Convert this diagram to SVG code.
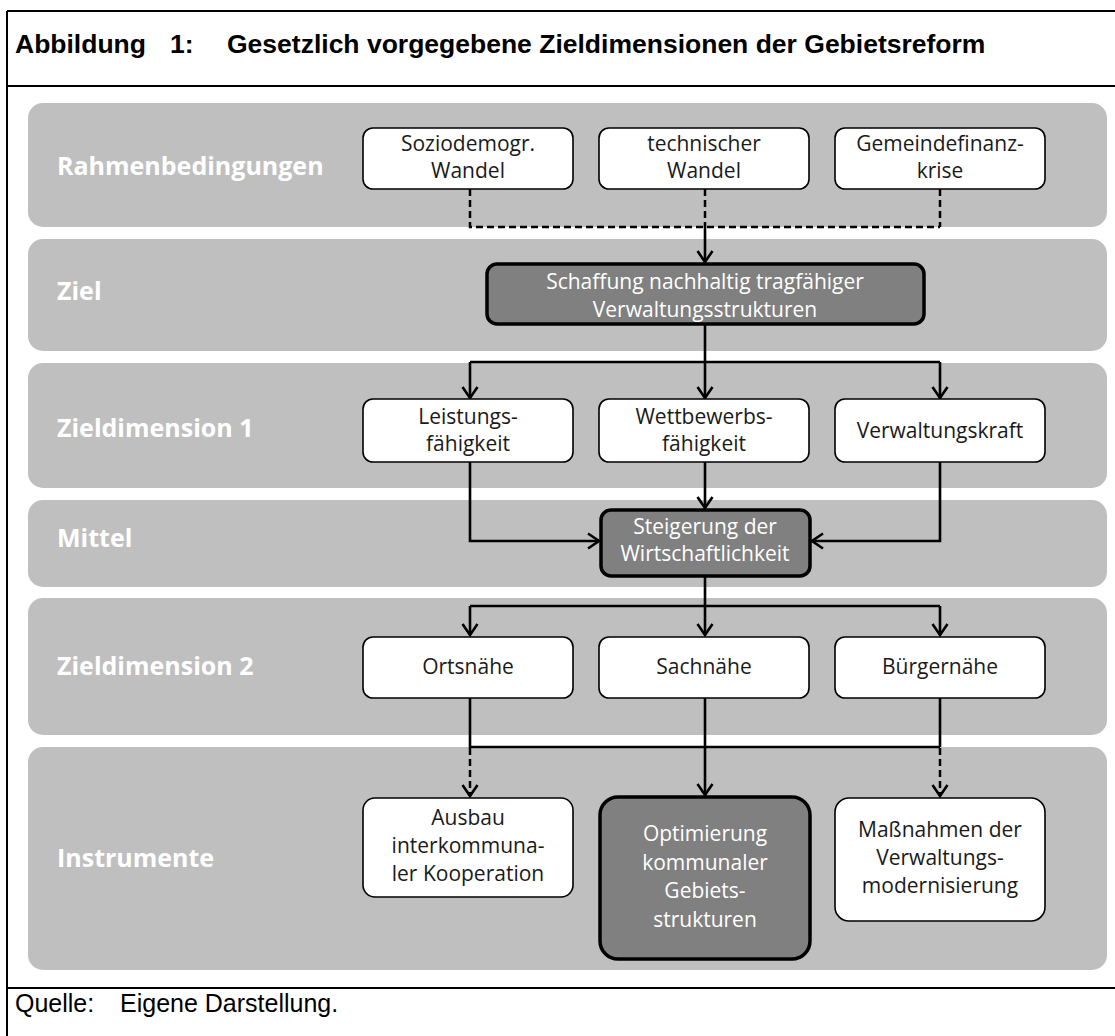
<svg xmlns="http://www.w3.org/2000/svg" width="1115" height="1036" viewBox="0 0 1115 1036">
<style>
.frame{stroke:#000;stroke-width:2;fill:none}
.title{font-family:"Liberation Sans",Arial,sans-serif;font-weight:bold;font-size:26.5px;fill:#000}
.src{font-family:"Liberation Sans",Arial,sans-serif;font-size:25px;fill:#000}
.band{fill:#BFBFBF}
.blabel{font-family:"Open Sans","Noto Sans",sans-serif;font-weight:bold;font-size:25px;fill:#fff}
.wbox{fill:#fff;stroke:#000;stroke-width:1.6}
.dbox{fill:#808080;stroke:#000;stroke-width:3.5}
.t{font-family:"Open Sans","Noto Sans",sans-serif;font-size:21px;fill:#1a1a1a;text-anchor:middle}
.tw{font-family:"Open Sans","Noto Sans",sans-serif;font-size:21px;fill:#fff;text-anchor:middle}
.c{fill:none;stroke:#000;stroke-width:2.6}
.d{fill:none;stroke:#000;stroke-width:2.5;stroke-dasharray:7 4}
</style>
<defs>
<marker id="ah" viewBox="-14 -10 16 20" refX="0" refY="0" markerWidth="16" markerHeight="20" markerUnits="userSpaceOnUse" orient="auto">
<path d="M-11,-7.5 L0,0 L-11,7.5" fill="none" stroke="#000" stroke-width="2.6"/>
</marker>
</defs>
<rect width="1115" height="1036" fill="#fff"/>
<g id="frame">
<line class="frame" x1="7" y1="11" x2="1115" y2="11"/>
<line class="frame" x1="7" y1="86" x2="1115" y2="86"/>
<line class="frame" x1="7" y1="988" x2="1115" y2="988"/>
<line class="frame" x1="7" y1="11" x2="7" y2="1036"/>
<text class="title" x="15" y="53">Abbildung</text>
<text class="title" x="170" y="53">1:</text>
<text class="title" x="227" y="53">Gesetzlich vorgegebene Zieldimensionen der Gebietsreform</text>
<text class="src" x="15" y="1012">Quelle:</text>
<text class="src" x="120" y="1012">Eigene Darstellung.</text>
</g>
<g id="bands">
<g id="band-rahmen"><rect class="band" x="28" y="103" width="1079" height="124" rx="15"/><text class="blabel" x="57" y="175">Rahmenbedingungen</text></g>
<g id="band-ziel"><rect class="band" x="28" y="239" width="1079" height="112" rx="15"/><text class="blabel" x="57" y="300">Ziel</text></g>
<g id="band-zd1"><rect class="band" x="28" y="363" width="1079" height="125" rx="15"/><text class="blabel" x="57" y="437">Zieldimension 1</text></g>
<g id="band-mittel"><rect class="band" x="28" y="500" width="1079" height="87" rx="15"/><text class="blabel" x="57" y="547">Mittel</text></g>
<g id="band-zd2"><rect class="band" x="28" y="598" width="1079" height="137" rx="15"/><text class="blabel" x="57" y="675">Zieldimension 2</text></g>
<g id="band-instr"><rect class="band" x="28" y="747" width="1079" height="223" rx="15"/><text class="blabel" x="57" y="867">Instrumente</text></g>
</g>
<g id="connectors">
<path class="d" d="M470,189 V227 H940 M940,189 V227 M705,189 V227"/>
<path class="c" d="M705,227 V262" marker-end="url(#ah)"/>
<path class="c" d="M705,325 V362 M470,362 H940"/>
<path class="c" d="M470,362 V398" marker-end="url(#ah)"/>
<path class="c" d="M705,362 V398" marker-end="url(#ah)"/>
<path class="c" d="M940,362 V398" marker-end="url(#ah)"/>
<path class="c" d="M470,462 V541 H599" marker-end="url(#ah)"/>
<path class="c" d="M940,462 V541 H812" marker-end="url(#ah)"/>
<path class="c" d="M705,462 V508" marker-end="url(#ah)"/>
<path class="c" d="M705,576 V606 M470,606 H940"/>
<path class="c" d="M470,606 V635" marker-end="url(#ah)"/>
<path class="c" d="M705,606 V635" marker-end="url(#ah)"/>
<path class="c" d="M940,606 V635" marker-end="url(#ah)"/>
<path class="c" d="M470,698 V747 H940 M940,698 V747"/>
<path class="c" d="M705,698 V795" marker-end="url(#ah)"/>
<path class="d" d="M470,748 V796" marker-end="url(#ah)"/>
<path class="d" d="M940,748 V796" marker-end="url(#ah)"/>
</g>
<g id="n-sozio"><rect class="wbox" x="363" y="128" width="210" height="61" rx="10"/><text class="t" x="468" y="151">Soziodemogr.</text><text class="t" x="468" y="178">Wandel</text></g>
<g id="n-tech"><rect class="wbox" x="599" y="128" width="210" height="61" rx="10"/><text class="t" x="704" y="151">technischer</text><text class="t" x="704" y="178">Wandel</text></g>
<g id="n-gemeinde"><rect class="wbox" x="835" y="128" width="210" height="61" rx="10"/><text class="t" x="940" y="151">Gemeindefinanz-</text><text class="t" x="940" y="178">krise</text></g>
<g id="n-ziel"><rect class="dbox" x="487" y="264" width="437" height="60" rx="10"/><text class="tw" x="705" y="289">Schaffung nachhaltig tragfähiger</text><text class="tw" x="705" y="317">Verwaltungsstrukturen</text></g>
<g id="n-leistung"><rect class="wbox" x="363" y="399" width="210" height="63" rx="10"/><text class="t" x="468" y="424">Leistungs-</text><text class="t" x="468" y="451">fähigkeit</text></g>
<g id="n-wettbewerb"><rect class="wbox" x="599" y="399" width="210" height="63" rx="10"/><text class="t" x="704" y="424">Wettbewerbs-</text><text class="t" x="704" y="451">fähigkeit</text></g>
<g id="n-verwaltungskraft"><rect class="wbox" x="835" y="399" width="210" height="63" rx="10"/><text class="t" x="940" y="438">Verwaltungskraft</text></g>
<g id="n-mittel"><rect class="dbox" x="601" y="510" width="209" height="66" rx="10"/><text class="tw" x="705" y="534">Steigerung der</text><text class="tw" x="705" y="561">Wirtschaftlichkeit</text></g>
<g id="n-orts"><rect class="wbox" x="363" y="637" width="210" height="61" rx="10"/><text class="t" x="468" y="674">Ortsnähe</text></g>
<g id="n-sach"><rect class="wbox" x="599" y="637" width="210" height="61" rx="10"/><text class="t" x="704" y="674">Sachnähe</text></g>
<g id="n-buerger"><rect class="wbox" x="835" y="637" width="210" height="61" rx="10"/><text class="t" x="940" y="674">Bürgernähe</text></g>
<g id="n-ausbau"><rect class="wbox" x="363" y="798" width="210" height="99" rx="12"/><text class="t" x="468" y="825">Ausbau</text><text class="t" x="468" y="853">interkommuna-</text><text class="t" x="468" y="881">ler Kooperation</text></g>
<g id="n-optimierung"><rect class="dbox" x="600" y="797" width="210" height="162" rx="18"/><text class="tw" x="705" y="841">Optimierung</text><text class="tw" x="705" y="870">kommunaler</text><text class="tw" x="705" y="898">Gebiets-</text><text class="tw" x="705" y="927">strukturen</text></g>
<g id="n-massnahmen"><rect class="wbox" x="835" y="798" width="210" height="123" rx="14"/><text class="t" x="940" y="837">Maßnahmen der</text><text class="t" x="940" y="865">Verwaltungs-</text><text class="t" x="940" y="893">modernisierung</text></g>
</svg>
